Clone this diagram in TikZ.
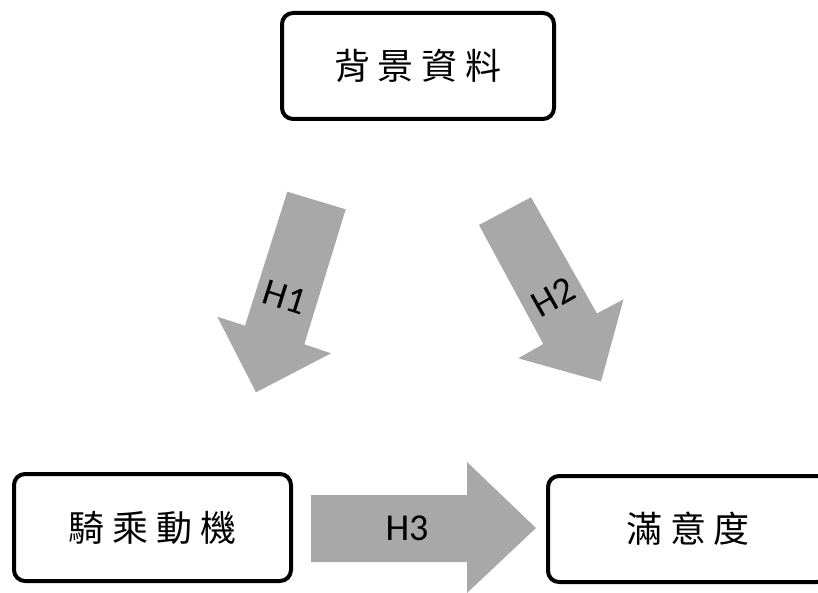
\documentclass[tikz,border=0pt]{standalone}
\usepackage{fontspec}
\setmainfont{Carlito}
\newfontfamily\cjk{Noto Sans CJK TC}
\definecolor{arrowgray}{RGB}{168,168,168}
\tikzset{
  box/.style={draw=black, line width=4pt, rounded corners=11pt, fill=white,
              inner sep=0pt, font=\cjk\fontsize{36}{40}\selectfont},
  blockarrow/.style={fill=arrowgray, draw=none},
  hlabel/.style={font=\fontsize{38}{42}\selectfont, inner sep=0pt}
}
\begin{document}
\begin{tikzpicture}[x=1pt, y=-1pt]
  \useasboundingbox (0,0) rectangle (818,593);

  % the three boxes
  \node[box, minimum width=272pt, minimum height=106pt] (bg) at (418,66)
    {背\hspace{8pt}景\hspace{8pt}資\hspace{8pt}料};
  \node[box, minimum width=277pt, minimum height=107pt] (ride) at (152.5,527.5)
    {騎\hspace{8pt}乘\hspace{8pt}動\hspace{8pt}機};
  \node[box, minimum width=280pt, minimum height=106pt] (sat) at (688,529)
    {滿\hspace{8pt}意\hspace{8pt}度};

  % H1: block arrow from the background box down towards the motive box
  \coordinate (h1a) at (287.3,191.7);
  \coordinate (h1b) at (345.7,209.3);
  \coordinate (h1c) at (304.3,344.3);
  \coordinate (h1d) at (331,353.3);
  \coordinate (h1e) at (256,392.3);
  \coordinate (h1f) at (217.3,316.7);
  \coordinate (h1g) at (245,325.7);
  \fill[blockarrow] (h1a) -- (h1b) -- (h1c) -- (h1d) -- (h1e) -- (h1f) -- (h1g) -- cycle;
  \node[hlabel, rotate=-17.5] (h1) at (285,297) {H1};

  % H2: block arrow from the background box down towards the satisfaction box
  \coordinate (h2a) at (479,225);
  \coordinate (h2b) at (531,197.3);
  \coordinate (h2c) at (597,313.5);
  \coordinate (h2d) at (623.5,299.3);
  \coordinate (h2e) at (601,381.5);
  \coordinate (h2f) at (518.3,358.3);
  \coordinate (h2g) at (543.3,344);
  \fill[blockarrow] (h2a) -- (h2b) -- (h2c) -- (h2d) -- (h2e) -- (h2f) -- (h2g) -- cycle;
  \node[hlabel, rotate=29.5] (h2) at (553,297) {H2};

  % H3: horizontal block arrow from the motive box to the satisfaction box
  \coordinate (h3a) at (311,495);
  \coordinate (h3b) at (467,495);
  \coordinate (h3c) at (467,462);
  \coordinate (h3d) at (536,528);
  \coordinate (h3e) at (467,593);
  \coordinate (h3f) at (467,562);
  \coordinate (h3g) at (311,562);
  \fill[blockarrow] (h3a) -- (h3b) -- (h3c) -- (h3d) -- (h3e) -- (h3f) -- (h3g) -- cycle;
  \node[hlabel] (h3) at (407,528) {H3};
\end{tikzpicture}
\end{document}
